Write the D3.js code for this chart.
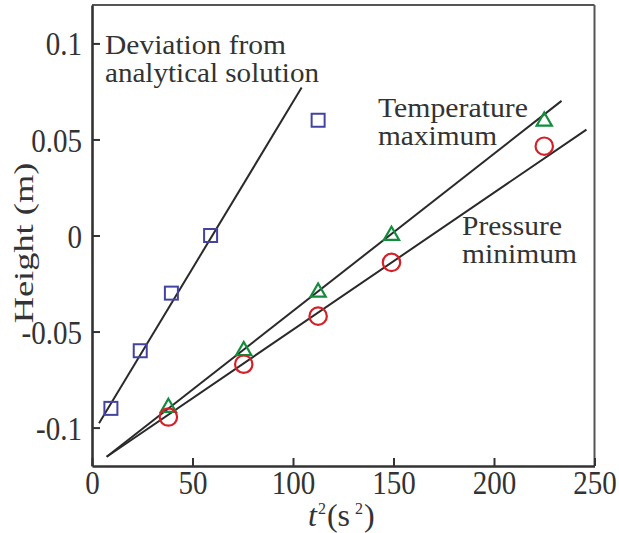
<!DOCTYPE html>
<html>
<head>
<meta charset="utf-8">
<script src="https://cdn.jsdelivr.net/npm/d3@7"></script>
<style>
html,body{margin:0;padding:0;background:#fff;}
svg{display:block;}
text{font-family:"Liberation Serif","Times New Roman",serif;fill:#333;}
</style>
</head>
<body>
<svg id="chart" width="619" height="533"></svg>
<script>
// ---- data ----
const squareX = [9.4, 24, 39.5, 59, 112.5];
const squareY = [-0.09, -0.06, -0.03, 0.0, 0.06];
const triangleX = [38, 75.5, 112.5, 149, 225];
const triangleY = [-0.089, -0.0595, -0.029, 0.0005, 0.06];
const circleX = [38, 75.5, 112.5, 149, 225];
const circleY = [-0.0945, -0.067, -0.042, -0.014, 0.0465];
const devLineX = [3.5, 104.3];
const devLineY = [-0.0977, 0.077];
const tempLineX = [7.3, 233.6];
const tempLineY = [-0.1152, 0.0701];
const presLineX = [7.3, 246];
const presLineY = [-0.1152, 0.0551];
const xTicks = [0, 50, 100, 150, 200, 250];
const yTicks = [-0.1, -0.05, 0, 0.05, 0.1];
const yTickLabels = ["-0.1", "-0.05", "0", "0.05", "0.1"];

const svg = d3.select("#chart");
const x = d3.scaleLinear().domain([0, 250]).range([92, 594.5]);
const y = d3.scaleLinear().domain([-0.12, 0.12]).range([466, 5]);

// frame top/right
svg.append("line").attr("x1", x(0)).attr("x2", x(250)).attr("y1", y(0.12)).attr("y2", y(0.12))
  .attr("stroke", "#555").attr("stroke-width", 2);
svg.append("line").attr("x1", x(250)).attr("x2", x(250)).attr("y1", y(0.12)).attr("y2", y(-0.12))
  .attr("stroke", "#555").attr("stroke-width", 2);

// axes
const sx = 0.88;
const xAxis = d3.axisBottom(x).tickValues(xTicks).tickSizeInner(-8).tickSizeOuter(0)
  .tickFormat(d3.format("d"));
const gx = svg.append("g").attr("transform", `translate(0,${y(-0.12)})`).call(xAxis);
const yAxis = d3.axisLeft(y).tickValues(yTicks).tickSizeInner(-8).tickSizeOuter(0)
  .tickFormat((d, i) => yTickLabels[i]);
const gy = svg.append("g").attr("transform", `translate(${x(0)},0)`).call(yAxis);
[gx, gy].forEach(g => {
  g.select(".domain").attr("stroke", "#333").attr("stroke-width", 2.6);
  g.selectAll(".tick line").attr("stroke", "#333").attr("stroke-width", 2);
  g.selectAll(".tick text").attr("font-family", "Liberation Serif").attr("font-size", 33).attr("fill", "#333");
});
gy.selectAll(".tick text").attr("x", -10 / sx).attr("dy", "0.35em").attr("transform", `scale(${sx},1)`);
gx.selectAll(".tick text").attr("y", 28).attr("dy", 0).attr("transform", `scale(${sx},1)`);

// fitted lines
const line = d3.line().x(d => x(d[0])).y(d => y(d[1]));
[[devLineX, devLineY], [tempLineX, tempLineY], [presLineX, presLineY]].forEach(([lx, ly]) => {
  svg.append("path").datum(lx.map((v, i) => [v, ly[i]])).attr("d", line)
    .attr("fill", "none").attr("stroke", "#2a2a2a").attr("stroke-width", 2);
});

// markers
svg.selectAll(".sq").data(squareX.map((v, i) => [v, squareY[i]])).enter().append("rect")
  .attr("x", d => x(d[0]) - 6.5).attr("y", d => y(d[1]) - 6.5).attr("width", 13).attr("height", 13)
  .attr("fill", "none").attr("stroke", "#4343a3").attr("stroke-width", 2);
const tri = d3.symbol().type(d3.symbolTriangle).size(100);
svg.selectAll(".tri").data(triangleX.map((v, i) => [v, triangleY[i]])).enter().append("path")
  .attr("d", tri).attr("transform", d => `translate(${x(d[0])},${y(d[1]) + 1})`)
  .attr("fill", "none").attr("stroke", "#138c3c").attr("stroke-width", 2.2);
svg.selectAll(".circ").data(circleX.map((v, i) => [v, circleY[i]])).enter().append("circle")
  .attr("cx", d => x(d[0])).attr("cy", d => y(d[1])).attr("r", 8.7)
  .attr("fill", "none").attr("stroke", "#d42028").attr("stroke-width", 2.2);

// annotations
function label(px, py, lines, widths) {
  const t = svg.append("text").attr("x", px).attr("y", py).attr("font-size", 26.5);
  lines.forEach((s, i) => t.append("tspan").attr("x", px).attr("dy", i === 0 ? 0 : 28)
    .attr("textLength", widths[i]).attr("lengthAdjust", "spacingAndGlyphs").text(s));
}
label(105, 54, ["Deviation from", "analytical solution"], [181, 214]);
label(378, 117, ["Temperature", "maximum"], [150, 119]);
label(462, 235, ["Pressure", "minimum"], [100, 115]);

// axis titles
svg.append("text").attr("transform", "translate(33,243) rotate(-90) scale(1.3,1)")
  .attr("text-anchor", "middle").attr("font-size", 28).text("Height (m)");
const xt = svg.append("text").attr("x", 308).attr("y", 526).attr("font-size", 32);
xt.append("tspan").attr("font-style", "italic").text("t");
xt.append("tspan").attr("font-size", 16).attr("dy", -12).attr("dx", 1).text("2");
xt.append("tspan").attr("dy", 12).attr("dx", 1).text("(s");
xt.append("tspan").attr("font-size", 16).attr("dy", -12).attr("dx", 5).text("2");
xt.append("tspan").attr("dy", 12).attr("dx", 1).text(")");
</script>
</body>
</html>
